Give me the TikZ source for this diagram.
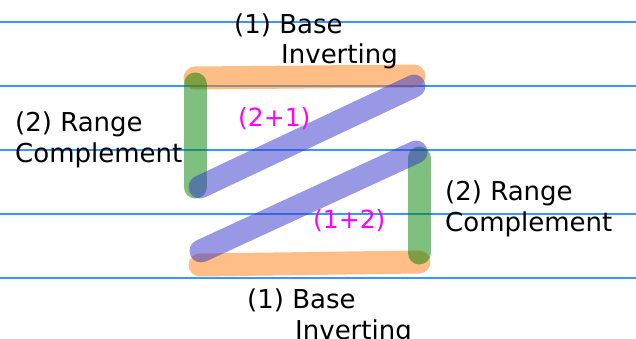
\documentclass[tikz,border=0pt]{standalone}
\usepackage{fontspec}
\setmainfont{DejaVu Sans}
\definecolor{gridblue}{RGB}{51,153,255}
\definecolor{bandorange}{RGB}{255,127,14}
\definecolor{bandgreen}{RGB}{0,128,0}
\definecolor{bandblue}{RGB}{51,51,204}
\definecolor{labelmagenta}{RGB}{255,0,255}
\begin{document}
\begin{tikzpicture}[x=1pt,y=-1pt,
  gridline/.style={draw=gridblue, line width=1.2pt},
  band/.style={line width=23pt, line cap=round, draw opacity=0.5},
  lbl/.style={anchor=base west, inner sep=0pt, align=left, font=\fontsize{26}{30.5}\selectfont},
  mlbl/.style={anchor=base west, inner sep=0pt, text=labelmagenta, font=\fontsize{25}{30}\selectfont}]
\fill[white] (0,0) rectangle (636,339);
\useasboundingbox (0,0) rectangle (636,339);
% horizontal guide lines
\foreach \yy/\nm in {22/ga,86/gb,150/gc,214/gd,278/ge}{
  \coordinate (\nm L) at (0,\yy);
  \coordinate (\nm R) at (636,\yy);
  \draw[gridline] (\nm L) -- (\nm R);
}
% band end points
\coordinate (otl) at (195,78);
\coordinate (otr) at (414,76);
\coordinate (glt) at (195,84);
\coordinate (glb) at (195,187);
\coordinate (but) at (414,86);
\coordinate (bub) at (200,187);
\coordinate (blt) at (416,152);
\coordinate (blb) at (201,251);
\coordinate (grt) at (419,158);
\coordinate (grb) at (419,253);
\coordinate (obl) at (200,265);
\coordinate (obr) at (419,262);
% bands
\draw[band, draw=bandorange] (otl) -- (otr);
\draw[band, draw=bandorange] (obl) -- (obr);
\draw[band, draw=bandgreen] (glt) -- (glb);
\draw[band, draw=bandgreen] (grt) -- (grb);
\draw[band, draw=bandblue] (bub) -- (but);
\draw[band, draw=bandblue] (blb) -- (blt);
% labels (anchored at the baseline of their last line)
\node[lbl] (toplbl) at (234,64) {(1) Base\\\hspace{47pt}Inverting};
\node[lbl] (botlbl) at (247,339) {(1) Base\\\hspace{48pt}Inverting};
\node[lbl] (leftlbl) at (15,162) {(2) Range\\Complement};
\node[lbl] (rightlbl) at (445,231) {(2) Range\\Complement};
\node[mlbl] (sumA) at (238,127) {(2+1)};
\node[mlbl] (sumB) at (313,228) {(1+2)};
\end{tikzpicture}
\end{document}
